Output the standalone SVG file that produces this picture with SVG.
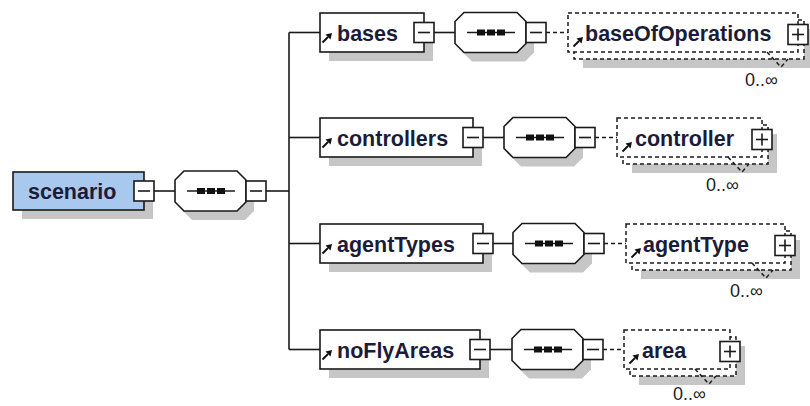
<svg xmlns="http://www.w3.org/2000/svg" xmlns:xlink="http://www.w3.org/1999/xlink" width="810" height="406" viewBox="0 0 810 406">
<style>
.bg{fill:#fff}
.box{fill:#fff;stroke:#1a1a1a;stroke-width:1.6}
.root{fill:#a9c8ee;stroke:#1a1a1a;stroke-width:1.6}
.sh{fill:#c6c6c6}
.dash{fill:#fff;stroke:#1a1a1a;stroke-width:1.5;stroke-dasharray:4 3}
.ln{stroke:#1a1a1a;stroke-width:1.6;fill:none}
.dl{stroke:#1a1a1a;stroke-width:1.5;fill:none;stroke-dasharray:4 3}
.lbl{font-family:"Liberation Sans",Arial,sans-serif;font-weight:bold;font-size:21.5px;fill:#1c1c38}
.card{font-family:"Liberation Sans",Arial,sans-serif;font-size:18px;fill:#222}
</style>
<defs>
<g id="mn"><rect width="20" height="20" class="box"/><line x1="4" y1="10" x2="16" y2="10" class="ln"/></g>
<g id="pl"><rect width="20" height="20" class="box"/><line x1="4" y1="10" x2="16" y2="10" class="ln"/><line x1="10" y1="4" x2="10" y2="16" class="ln"/></g>
<g id="seq">
<polygon class="sh" transform="translate(8,9)" points="9,0 62,0 71,9 71,31 62,40 9,40 0,31 0,9"/>
<polygon class="box" points="9,0 62,0 71,9 71,31 62,40 9,40 0,31 0,9"/>
<line x1="12" y1="20" x2="60" y2="20" class="ln"/>
<rect x="22" y="17" width="8" height="6" fill="#111"/><rect x="32" y="17" width="8" height="6" fill="#111"/><rect x="42" y="17" width="8" height="6" fill="#111"/>
</g>
<g id="ref"><line x1="0.5" y1="9.5" x2="6" y2="4" stroke="#111" stroke-width="2"/><polygon points="10,0 3.5,1.5 8.5,6.5" fill="#111"/></g>
</defs>
<rect class="bg" width="810" height="406"/>

<g id="connectors">
<line class="ln" x1="154" y1="191" x2="175" y2="191"/>
<line class="ln" x1="266" y1="191" x2="289" y2="191"/>
<line class="ln" x1="289" y1="32.5" x2="289" y2="349.5"/>
<line class="ln" x1="289" y1="32.5" x2="320" y2="32.5"/>
<line class="ln" x1="289" y1="137.5" x2="320" y2="137.5"/>
<line class="ln" x1="289" y1="243.5" x2="320" y2="243.5"/>
<line class="ln" x1="289" y1="349.5" x2="320" y2="349.5"/>
<line class="ln" x1="434" y1="32.5" x2="455" y2="32.5"/>
<line class="ln" x1="483" y1="137.5" x2="504" y2="137.5"/>
<line class="ln" x1="493" y1="243.5" x2="513" y2="243.5"/>
<line class="ln" x1="490" y1="349.5" x2="512" y2="349.5"/>
<line class="dl" x1="546" y1="32.5" x2="568" y2="32.5"/>
<line class="dl" x1="595" y1="137.5" x2="617" y2="137.5"/>
<line class="dl" x1="604" y1="243.5" x2="626" y2="243.5"/>
<line class="dl" x1="603" y1="349.5" x2="624" y2="349.5"/>
</g>

<g id="scenario">
<rect class="sh" x="22" y="181" width="131" height="38"/>
<rect class="root" x="13" y="172" width="131" height="38"/>
<text class="lbl" x="28" y="199">scenario</text>
<use href="#mn" x="134" y="181"/>
</g>
<g id="seq0"><use href="#seq" x="175" y="171"/><use href="#mn" x="246" y="181"/></g>

<g id="bases">
<rect class="sh" x="329" y="22" width="104" height="39"/>
<rect class="box" x="320" y="13" width="104" height="39"/>
<use href="#ref" x="322" y="33"/>
<text class="lbl" x="337" y="41">bases</text>
<use href="#mn" x="414" y="22.5"/>
</g>
<g id="seq1"><use href="#seq" x="455" y="12.5"/><use href="#mn" x="526" y="22.5"/></g>
<g id="baseOfOperations">
<rect class="sh" x="583" y="29" width="230" height="39"/>
<rect class="dash" x="574" y="20" width="230" height="39"/>
<rect class="dash" x="568" y="13" width="230" height="39"/>
<use href="#ref" x="573" y="37"/>
<text class="lbl" x="585" y="41">baseOfOperations</text>
<use href="#pl" x="788" y="24.5"/>
<polyline class="dl" points="767,52 781,67 788,59"/>
<text class="card" x="745" y="86">0..∞</text>
</g>

<g id="controllers">
<rect class="sh" x="329" y="127" width="153" height="39"/>
<rect class="box" x="320" y="118" width="153" height="39"/>
<use href="#ref" x="322" y="138"/>
<text class="lbl" x="337" y="146">controllers</text>
<use href="#mn" x="463" y="127.5"/>
</g>
<g id="seq2"><use href="#seq" x="504" y="117.5"/><use href="#mn" x="575" y="127.5"/></g>
<g id="controller">
<rect class="sh" x="632" y="134" width="145" height="39"/>
<rect class="dash" x="623" y="125" width="145" height="39"/>
<rect class="dash" x="617" y="118" width="145" height="39"/>
<use href="#ref" x="622" y="142"/>
<text class="lbl" x="635" y="146">controller</text>
<use href="#pl" x="752" y="129.5"/>
<polyline class="dl" points="728,157 742,172 749,164"/>
<text class="card" x="706" y="191">0..∞</text>
</g>

<g id="agentTypes">
<rect class="sh" x="329" y="233" width="163" height="39"/>
<rect class="box" x="320" y="224" width="163" height="39"/>
<use href="#ref" x="322" y="244"/>
<text class="lbl" x="337" y="252">agentTypes</text>
<use href="#mn" x="473" y="233.5"/>
</g>
<g id="seq3"><use href="#seq" x="513" y="223.5"/><use href="#mn" x="584" y="233.5"/></g>
<g id="agentType">
<rect class="sh" x="641" y="240" width="159" height="39"/>
<rect class="dash" x="632" y="231" width="159" height="39"/>
<rect class="dash" x="626" y="224" width="159" height="39"/>
<use href="#ref" x="631" y="248"/>
<text class="lbl" x="643" y="252">agentType</text>
<use href="#pl" x="775" y="235.5"/>
<polyline class="dl" points="752,263 766,278 773,270"/>
<text class="card" x="730" y="297">0..∞</text>
</g>

<g id="noFlyAreas">
<rect class="sh" x="329" y="339" width="160" height="39"/>
<rect class="box" x="320" y="330" width="160" height="39"/>
<use href="#ref" x="322" y="350"/>
<text class="lbl" x="337" y="358">noFlyAreas</text>
<use href="#mn" x="470" y="339.5"/>
</g>
<g id="seq4"><use href="#seq" x="512" y="329.5"/><use href="#mn" x="583" y="339.5"/></g>
<g id="area">
<rect class="sh" x="639" y="346" width="106" height="39"/>
<rect class="dash" x="630" y="337" width="106" height="39"/>
<rect class="dash" x="624" y="330" width="106" height="39"/>
<use href="#ref" x="629" y="354"/>
<text class="lbl" x="642" y="358">area</text>
<use href="#pl" x="720" y="341.5"/>
<polyline class="dl" points="695,369 709,384 716,376"/>
<text class="card" x="673" y="400">0..∞</text>
</g>
</svg>
